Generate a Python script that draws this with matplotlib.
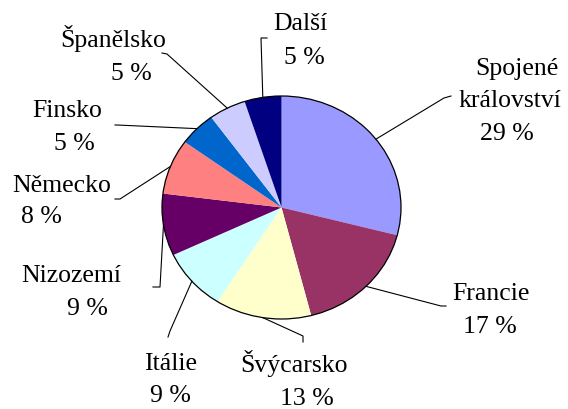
import matplotlib.pyplot as plt
import numpy as np

plt.rcParams["font.family"] = ["Liberation Serif", "DejaVu Serif"]

countries = ["Spojené\nkrálovství", "Francie", "Švýcarsko", "Itálie", "Nizozemí",
             "Německo", "Finsko", "Španělsko", "Další"]
shares = [29, 17, 13, 9, 9, 8, 5, 5, 5]
colors = ["#9999FF", "#993366", "#FFFFCC", "#CCFFFF", "#660066",
          "#FF8080", "#0066CC", "#CCCCFF", "#000080"]

# label layout in pixels: line centres x, baselines y, leader elbow and tick end
line_x = [[517, 510, 507], [491, 490], [294, 307], [171, 170], [71, 87],
          [62, 41], [67, 74], [113, 131], [300, 304]]
line_y = [[75, 107, 140], [300, 333], [372, 405], [370, 402], [282, 315],
          [192, 223], [117, 150], [47, 80], [30, 64]]
elbow = [(444, 99), (441, 307), (303, 337), (170, 332), (160, 288),
         (120, 200), (117, 126), (167, 55), (261, 39)]
tick = [(451, 97), (446, 307), (303, 343), (168, 338), (153, 288),
        (115, 200), (115, 126), (162, 54), (267, 39)]

W, H = 568, 410
CX, CY, RX, RY = 281.5, 208.5, 119.5, 111.5


def px(x, y):
    return (x - CX) / RX, (CY - y) / RY


fig = plt.figure(figsize=(W / 100, H / 100), dpi=100)
ax = fig.add_axes([0, 0, 1, 1])
wedges, _ = ax.pie(shares, colors=colors, startangle=90, counterclock=False,
                   radius=1, wedgeprops=dict(linewidth=0))
ax.add_patch(plt.Circle((0, 0), 1, fill=False, edgecolor="black", lw=0.9))
ax.set_aspect("auto")
ax.set_xlim(-CX / RX, (W - CX) / RX)
ax.set_ylim(-(H - CY) / RY, CY / RY)
ax.axis("off")

for i, w in enumerate(wedges):
    mid = np.deg2rad((w.theta1 + w.theta2) / 2)
    ex, ey = px(*elbow[i])
    tx, ty = px(*tick[i])
    ax.plot([np.cos(mid), ex, tx], [np.sin(mid), ey, ty], color="black", lw=0.8)
    lines = countries[i].split("\n") + [f"{shares[i]} %"]
    for text, lx, ly in zip(lines, line_x[i], line_y[i]):
        x, y = px(lx, ly)
        ax.text(x, y, text, ha="center", va="baseline", fontsize=18.5)

fig.savefig("out.png", dpi=100, facecolor="white")
